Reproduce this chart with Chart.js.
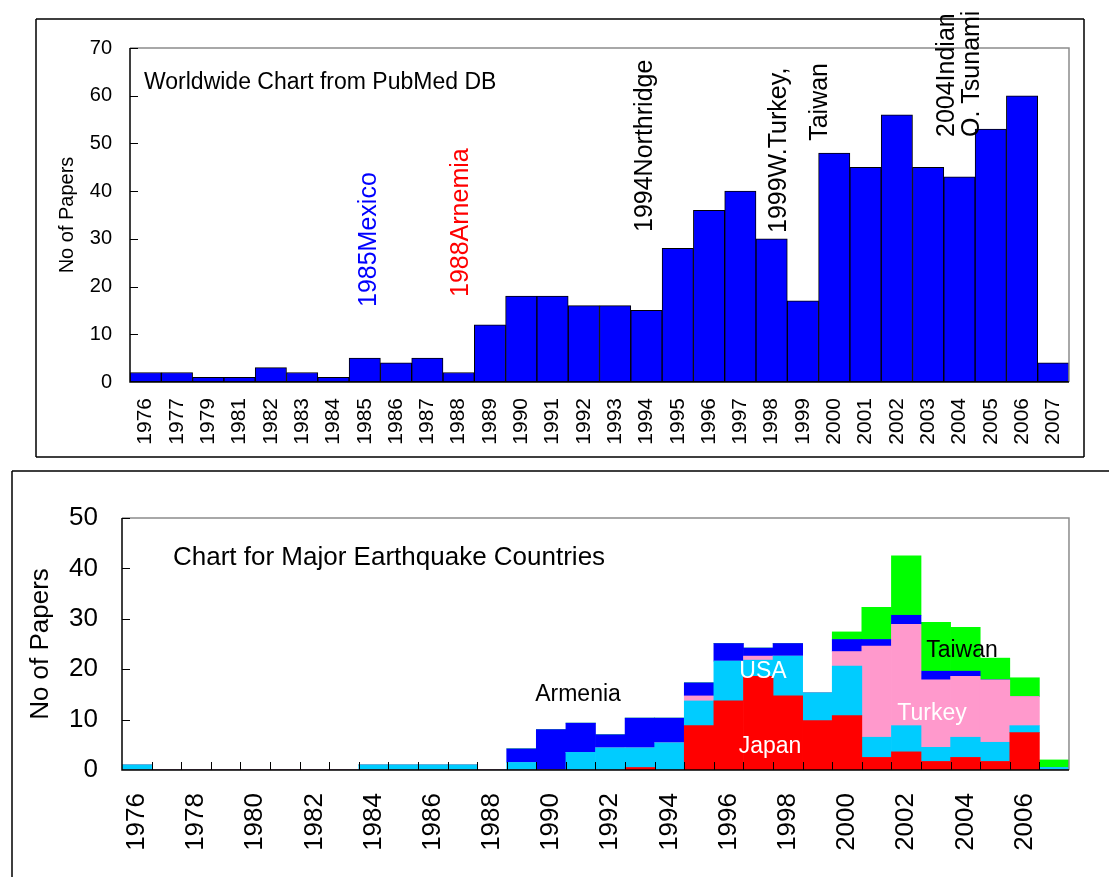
<!DOCTYPE html>
<html>
<head>
<meta charset="utf-8">
<script src="https://cdn.jsdelivr.net/npm/chart.js@4.4.0/dist/chart.umd.min.js"></script>
<style>
  body { margin: 0; background: #fff; }
  canvas { position: absolute; left: 0; }
  #worldChart { top: 0; }
  #countryChart { top: 460px; }
</style>
</head>
<body>
<canvas id="worldChart" width="1109" height="460"></canvas>
<canvas id="countryChart" width="1109" height="417"></canvas>
<script>
// Worldwide chart (top)
const worldYears = ['1976', '1977', '1979', '1981', '1982', '1983', '1984', '1985', '1986', '1987',
  '1988', '1989', '1990', '1991', '1992', '1993', '1994', '1995', '1996', '1997',
  '1998', '1999', '2000', '2001', '2002', '2003', '2004', '2005', '2006', '2007'];
const worldPapers = [2, 2, 1, 1, 3, 2, 1, 5, 4, 5, 2, 12, 18, 18, 16, 16, 15, 28, 36, 40,
  30, 17, 48, 45, 56, 45, 43, 53, 60, 4];
const worldTicks = [0, 10, 20, 30, 40, 50, 60, 70];

// Major earthquake countries (bottom), one value per year 1976-2007
const countryYears = ['1976', '1977', '1978', '1979', '1980', '1981', '1982', '1983', '1984', '1985',
  '1986', '1987', '1988', '1989', '1990', '1991', '1992', '1993', '1994', '1995',
  '1996', '1997', '1998', '1999', '2000', '2001', '2002', '2003', '2004', '2005', '2006', '2007'];
const japan = [0, 0, 0, 0, 0, 0, 0, 0, 0, 0, 0, 0, 0, 0, 0, 0, 0, 0.5, 0, 8.8,
  13.7, 18.6, 14.7, 9.8, 10.8, 2.5, 3.6, 1.7, 2.5, 1.7, 7.4, 0];
const usa = [1, 0, 0, 0, 0, 0, 0, 0, 1, 1, 1, 1, 0, 1.5, 0, 3.5, 4.4, 3.9, 5.4, 4.9,
  7.9, 3.2, 7.9, 5.5, 9.8, 4.0, 5.2, 2.8, 4.0, 3.8, 1.4, 0.5];
const turkey = [0, 0, 0, 0, 0, 0, 0, 0, 0, 0, 0, 0, 0, 0, 0, 0, 0, 0, 0, 1.0,
  0, 0.8, 0, 0, 2.9, 18.1, 20.1, 13.4, 12.1, 12.4, 5.8, 0];
const armenia = [0, 0, 0, 0, 0, 0, 0, 0, 0, 0, 0, 0, 0, 2.7, 8.0, 5.8, 2.6, 5.9, 4.9, 2.6,
  3.5, 1.6, 2.5, 0, 2.4, 1.3, 1.8, 1.7, 1.0, 0, 0, 0];
const taiwan = [0, 0, 0, 0, 0, 0, 0, 0, 0, 0, 0, 0, 0, 0, 0, 0, 0, 0, 0, 0,
  0, 0, 0, 0, 1.5, 6.4, 11.8, 9.7, 8.7, 4.3, 3.7, 1.5];
const countryTicks = [0, 10, 20, 30, 40, 50];

const FONT = '"Liberation Sans", Arial, sans-serif';
Chart.defaults.font.family = FONT;
Chart.defaults.color = '#000';

function drawText(c, text, x, y, opts) {
  c.save();
  c.font = opts.size + 'px ' + FONT;
  c.fillStyle = opts.color || '#000';
  c.textAlign = opts.align || 'left';
  c.textBaseline = 'alphabetic';
  c.translate(x, y);
  if (opts.rotate) c.rotate(-Math.PI / 2);
  c.fillText(text, 0, 0);
  c.restore();
}

// Outer box, plot frame, inward tick marks and text notes
function framePlugin(cfg) {
  return {
    id: 'frame',
    beforeDraw(chart) {
      const c = chart.ctx;
      c.save();
      c.fillStyle = '#fff';
      c.fillRect(0, 0, chart.width, chart.height);
      c.strokeStyle = '#000';
      c.lineWidth = 1.5;
      c.beginPath();
      cfg.box.forEach(([x1, y1, x2, y2]) => { c.moveTo(x1, y1); c.lineTo(x2, y2); });
      c.stroke();
      c.restore();
    },
    afterDatasetsDraw(chart) {
      const c = chart.ctx;
      const { left, right, top, bottom } = chart.chartArea;
      c.save();
      c.lineWidth = 1.5;
      c.strokeStyle = '#8c8c8c';
      c.beginPath();
      c.moveTo(left, top); c.lineTo(right, top); c.lineTo(right, bottom);
      c.stroke();
      c.strokeStyle = '#000';
      c.beginPath();
      c.moveTo(left, top); c.lineTo(left, bottom); c.lineTo(right, bottom);
      c.stroke();
      c.lineWidth = 1;
      c.beginPath();
      const ys = chart.scales.y;
      ys.ticks.forEach(t => {
        const y = Math.round(ys.getPixelForValue(t.value)) + 0.5;
        if (t.value > 0) { c.moveTo(left, y); c.lineTo(left + 8, y); }
      });
      if (cfg.xTicks) {
        const n = chart.data.labels.length;
        const step = (right - left) / n;
        for (let i = 1; i < n; i++) {
          const x = Math.round(left + i * step) + 0.5;
          c.moveTo(x, bottom); c.lineTo(x, bottom - 8);
        }
      }
      c.stroke();
      c.restore();
    },
    afterDraw(chart) {
      cfg.notes.forEach(n => drawText(chart.ctx, n.text, n.x, n.y, n));
    }
  };
}

new Chart(document.getElementById('worldChart'), {
  type: 'bar',
  data: {
    labels: worldYears,
    datasets: [{
      label: 'Papers',
      data: worldPapers,
      backgroundColor: '#0000FF',
      borderColor: '#000',
      borderWidth: 1,
      borderSkipped: false,
      barPercentage: 1,
      categoryPercentage: 1
    }]
  },
  options: {
    responsive: false,
    animation: false,
    devicePixelRatio: 1,
    layout: { padding: { top: 48, right: 40, left: 0, bottom: 0 } },
    plugins: { legend: { display: false }, tooltip: { enabled: false } },
    scales: {
      x: {
        grid: { display: false, drawTicks: false },
        border: { display: false },
        ticks: { minRotation: 90, maxRotation: 90, autoSkip: false, padding: 16, font: { size: 21 } },
        afterFit(s) { s.height = 78; }
      },
      y: {
        min: 0, max: 70,
        afterBuildTicks(s) { s.ticks = worldTicks.map(v => ({ value: v })); },
        grid: { display: false, drawTicks: false },
        border: { display: false },
        ticks: { padding: 18, font: { size: 20 } },
        title: { display: true, text: 'No of Papers', font: { size: 20 }, padding: { top: 55, bottom: 0 } },
        afterFit(s) { s.width = 130; }
      }
    }
  },
  plugins: [framePlugin({
    box: [[36, 19, 1084, 19], [1084, 19, 1084, 457], [1084, 457, 36, 457], [36, 457, 36, 19]],
    xTicks: false,
    notes: [
      { text: 'Worldwide Chart from PubMed DB', x: 144, y: 89, size: 23 },
      { text: '1985Mexico', x: 376, y: 307, size: 25, rotate: true, color: '#0000FF' },
      { text: '1988Arnemia', x: 468, y: 297, size: 25, rotate: true, color: '#FF0000' },
      { text: '1994Northridge', x: 652, y: 232, size: 25, rotate: true },
      { text: '1999W.Turkey,', x: 786, y: 233, size: 25, rotate: true },
      { text: 'Taiwan', x: 827, y: 63, size: 25, rotate: true, align: 'right' },
      { text: '2004Indian', x: 954, y: 137, size: 25, rotate: true },
      { text: 'O. Tsunami', x: 979, y: 137, size: 25, rotate: true }
    ]
  })]
});

const stackStyle = { barPercentage: 1, categoryPercentage: 1, borderWidth: 0 };

new Chart(document.getElementById('countryChart'), {
  type: 'bar',
  data: {
    labels: countryYears,
    datasets: [
      { label: 'Japan', data: japan, backgroundColor: '#FF0000', ...stackStyle },
      { label: 'USA', data: usa, backgroundColor: '#00CCFF', ...stackStyle },
      { label: 'Turkey', data: turkey, backgroundColor: '#FF99CC', ...stackStyle },
      { label: 'Armenia', data: armenia, backgroundColor: '#0000FF', ...stackStyle },
      { label: 'Taiwan', data: taiwan, backgroundColor: '#00FF00', ...stackStyle }
    ]
  },
  options: {
    responsive: false,
    animation: false,
    devicePixelRatio: 1,
    layout: { padding: { top: 58, right: 39, left: 0, bottom: 0 } },
    plugins: { legend: { display: false }, tooltip: { enabled: false } },
    scales: {
      x: {
        stacked: true,
        grid: { display: false, drawTicks: false },
        border: { display: false },
        ticks: {
          minRotation: 90, maxRotation: 90, autoSkip: false, padding: 23, font: { size: 26 },
          callback: (v, i) => (i % 2 === 0 ? countryYears[i] : '')
        },
        afterFit(s) { s.height = 107; }
      },
      y: {
        stacked: true,
        min: 0, max: 50,
        afterBuildTicks(s) { s.ticks = countryTicks.map(v => ({ value: v })); },
        grid: { display: false, drawTicks: false },
        border: { display: false },
        ticks: { padding: 24, font: { size: 26 } },
        title: { display: true, text: 'No of Papers', font: { size: 26 }, padding: { top: 25, bottom: 0 } },
        afterFit(s) { s.width = 122; }
      }
    }
  },
  plugins: [framePlugin({
    box: [[12, 11, 1109, 11], [12, 11, 12, 417]],
    xTicks: true,
    notes: [
      { text: 'Chart for Major Earthquake Countries', x: 173, y: 105, size: 26 },
      { text: 'Armenia', x: 578, y: 241, size: 23, align: 'center' },
      { text: 'USA', x: 763, y: 218, size: 23, align: 'center', color: '#fff' },
      { text: 'Japan', x: 770, y: 293, size: 23, align: 'center', color: '#fff' },
      { text: 'Turkey', x: 932, y: 260, size: 23, align: 'center', color: '#fff' },
      { text: 'Taiwan', x: 962, y: 197, size: 23, align: 'center' }
    ]
  })]
});
</script>
</body>
</html>
